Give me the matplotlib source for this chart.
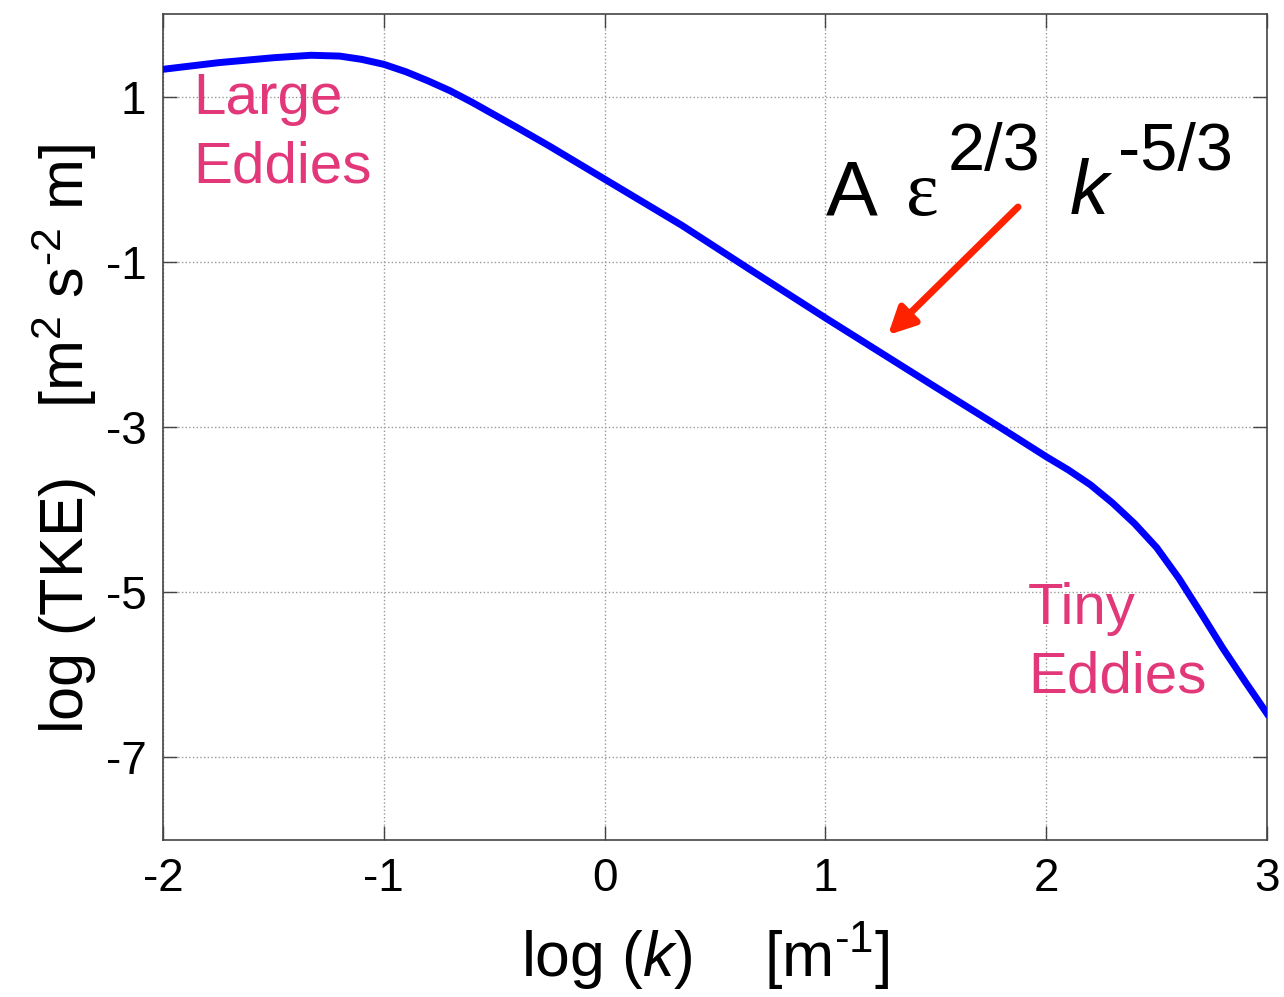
import matplotlib
matplotlib.use("Agg")
import matplotlib.pyplot as plt

plt.rcParams['font.family'] = ['Liberation Sans', 'DejaVu Sans']
plt.rcParams['mathtext.fontset'] = 'custom'
plt.rcParams['mathtext.rm'] = 'Liberation Sans'
plt.rcParams['mathtext.it'] = 'Liberation Sans:italic'

# spectrum: log wavenumber vs log TKE
log_k = [-2.0, -1.75, -1.5, -1.33, -1.2, -1.1, -1.0, -0.9, -0.8, -0.7,
         -0.6, -0.5, -0.4, -0.25, 0.0, 0.35, 0.65, 1.0, 1.5, 1.8,
         2.0, 2.1, 2.2, 2.3, 2.4, 2.5, 2.6, 2.7, 2.8, 2.9, 3.0]
log_tke = [1.33, 1.41, 1.47, 1.50, 1.49, 1.45, 1.39, 1.30, 1.19, 1.07,
           0.93, 0.78, 0.63, 0.40, 0.0, -0.56, -1.08, -1.68, -2.52, -3.02,
           -3.36, -3.52, -3.70, -3.92, -4.17, -4.46, -4.83, -5.25, -5.68, -6.08, -6.47]

x_ticks = [-2, -1, 0, 1, 2, 3]
y_ticks = [1, -1, -3, -5, -7]

pink = '#e2387a'

fig = plt.figure(figsize=(12.84, 9.97), dpi=100)
ax = fig.add_axes([0.127, 0.1575, 0.8598, 0.8285])

ax.plot(log_k, log_tke, color='#0000ff', lw=5, solid_joinstyle='round', zorder=3)

ax.set_xlim(-2, 3)
ax.set_ylim(-8, 2)
ax.set_xticks(x_ticks)
ax.set_yticks(y_ticks)
ax.set_xticklabels([str(t) for t in x_ticks])
ax.set_yticklabels([str(t) for t in y_ticks])
ax.tick_params(direction='in', length=10, width=1, top=True, right=True,
               labelsize=33, pad=12, color='#444444')
ax.grid(True, linestyle=':', color='#999999', lw=1)
for s in ax.spines.values():
    s.set_color('#444444')
    s.set_linewidth(1.2)

ax.set_xlabel(r'log ($\it{k}$)    [m$^{\text{-}1}$]', fontsize=45)
ax.xaxis.set_label_coords(0.491, -0.097)
ax.set_ylabel(r'log (TKE)    [m$^{2}$ s$^{\text{-}2}$ m]', fontsize=44)
ax.yaxis.set_label_coords(-0.058, 0.485)

# pixel placements converted from top-left origin
H = 997
def tx(px, py, s, **kw):
    ax.text(px, H - py, s, transform=None, **kw)

tx(193, 72, 'Large\nEddies', fontsize=42, color=pink, va='top', ha='left',
   linespacing=1.35)
tx(1028, 582, 'Tiny\nEddies', fontsize=42, color=pink, va='top', ha='left',
   linespacing=1.35)

tx(826, 215, 'A', fontsize=56, color='black', va='baseline', ha='left')
tx(906, 215, 'ε', fontsize=56, color='black', va='baseline', ha='left',
   family=['Liberation Serif', 'DejaVu Serif'])
tx(948, 170, '2/3', fontsize=48, color='black', va='baseline', ha='left')
tx(1070, 215, 'k', fontsize=56, color='black', va='baseline', ha='left',
   style='italic')
tx(1118, 170, '-5/3', fontsize=48, color='black', va='baseline', ha='left')

ax.annotate('', xy=(888, H - 335), xytext=(1018, H - 207),
            xycoords='figure pixels', textcoords='figure pixels',
            arrowprops=dict(arrowstyle='-|>,head_length=1.6,head_width=0.8',
                            color='#ff2200', lw=5, shrinkA=0, shrinkB=0))

fig.savefig('out.png', dpi=100)
